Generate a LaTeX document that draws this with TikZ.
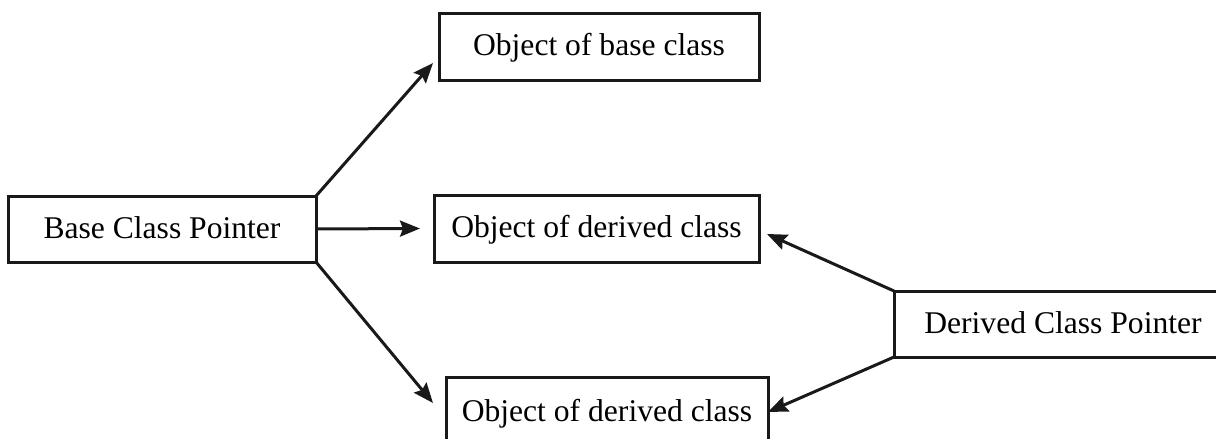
\documentclass[tikz,border=0pt]{standalone}
\usepackage{fontspec}
\setmainfont{Liberation Serif}
\usetikzlibrary{arrows.meta,calc}
\begin{document}
\begin{tikzpicture}[x=1pt,y=-1pt,
  box/.style={draw=black!90, line width=3pt, inner sep=0pt, outer sep=0pt,
    font=\fontsize{31.6}{38}\selectfont, text height=23.7pt, text depth=5.7pt,
    fill=white},
  conn/.style={draw=black!90, line width=3pt,
    -{Stealth[length=20pt,width=16pt,inset=3pt]}}]
\useasboundingbox (0,0) rectangle (1216,439);
\begin{scope}
\clip (0,0) rectangle (1216,439);
\node[box, minimum width=308pt, minimum height=66pt] (base) at (162,229) {Base Class Pointer};
\node[box, minimum width=320pt, minimum height=67pt] (objbase) at (599,46.5) {Object of base class};
\node[box, minimum width=325pt, minimum height=67pt] (objmid) at (596.5,228.5) {Object of derived class};
\node[box, minimum width=322pt, minimum height=70pt] (objbot) at (607,412) {Object of derived class};
\node[box, minimum width=338pt, minimum height=66pt] (derptr) at (1063,324) {Derived Class Pointer};
\draw[conn] (base.north east) -- ($(objbase.south west)+(-6,-17)$);
\draw[conn] (base.east) -- ($(objmid.west)+(-14,0)$);
\draw[conn] (base.south east) -- ($(objbot.north west)+(-13,26)$);
\draw[conn] (derptr.north west) -- ($(objmid.east)+(8,5.5)$);
\draw[conn] (derptr.south west) -- (objbot.east);
\end{scope}
\end{tikzpicture}
\end{document}
